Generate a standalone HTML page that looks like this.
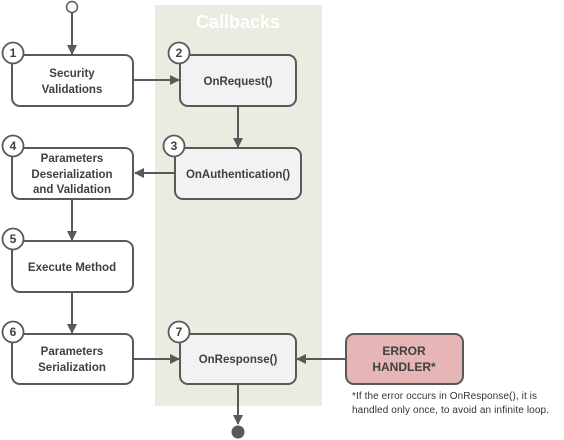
<!DOCTYPE html>
<html><head><style>
html,body{margin:0;padding:0;background:#fff;}
svg{display:block;font-family:"Liberation Sans",sans-serif;}
</style></head><body>
<svg width="564" height="440" viewBox="0 0 564 440" xmlns="http://www.w3.org/2000/svg">
<defs>
<marker id="a" markerWidth="10" markerHeight="10" refX="9" refY="5" orient="auto" markerUnits="userSpaceOnUse">
<path d="M0,0 L10,5 L0,10 z" fill="#595959"/>
</marker>
</defs>
<rect x="155" y="5" width="167" height="401" fill="#ecebe2"/>
<text x="238" y="28" text-anchor="middle" font-size="18" font-weight="bold" fill="#ffffff">Callbacks</text>

<g stroke="#595959" stroke-width="2" fill="none">
<line x1="72" y1="13" x2="72" y2="54" marker-end="url(#a)"/>
<line x1="134" y1="80" x2="179" y2="80" marker-end="url(#a)"/>
<line x1="238" y1="107" x2="238" y2="147" marker-end="url(#a)"/>
<line x1="174" y1="173" x2="135" y2="173" marker-end="url(#a)"/>
<line x1="72" y1="200" x2="72" y2="240" marker-end="url(#a)"/>
<line x1="72" y1="292" x2="72" y2="333" marker-end="url(#a)"/>
<line x1="134" y1="359" x2="179" y2="359" marker-end="url(#a)"/>
<line x1="345" y1="359" x2="297" y2="359" marker-end="url(#a)"/>
<line x1="238" y1="385" x2="238" y2="424" marker-end="url(#a)"/>
</g>
<circle cx="72" cy="7" r="5.5" fill="#fff" stroke="#595959" stroke-width="1.5"/>
<circle cx="238" cy="432" r="6.5" fill="#595959"/>

<g stroke="#595959" stroke-width="2">
<rect x="12" y="55" width="121" height="51" rx="8" fill="#fff"/>
<rect x="180" y="55" width="116" height="51" rx="8" fill="#f2f2f2"/>
<rect x="175" y="148" width="126" height="51" rx="8" fill="#f2f2f2"/>
<rect x="12" y="148" width="121" height="51" rx="8" fill="#fff"/>
<rect x="12" y="241" width="121" height="51" rx="8" fill="#fff"/>
<rect x="12" y="334" width="121" height="50" rx="8" fill="#fff"/>
<rect x="180" y="334" width="116" height="50" rx="8" fill="#f2f2f2"/>
<rect x="346" y="334" width="117" height="50" rx="8" fill="#e6b5b5"/>
</g>

<g stroke="#595959" stroke-width="1.8" fill="#fff">
<circle cx="13" cy="53" r="10.5"/>
<circle cx="179" cy="53" r="10.5"/>
<circle cx="174" cy="146" r="10.5"/>
<circle cx="13" cy="146" r="10.5"/>
<circle cx="13" cy="239" r="10.5"/>
<circle cx="13" cy="332" r="10.5"/>
<circle cx="179" cy="332" r="10.5"/>
</g>
<g font-size="12" font-weight="bold" fill="#404040" text-anchor="middle">
<text x="13" y="57">1</text>
<text x="179" y="57">2</text>
<text x="174" y="150">3</text>
<text x="13" y="150">4</text>
<text x="13" y="243">5</text>
<text x="13" y="336">6</text>
<text x="179" y="336">7</text>
</g>

<g font-size="11.5" font-weight="bold" fill="#404040" text-anchor="middle">
<text x="72" y="77">Security</text>
<text x="72" y="93">Validations</text>
<text x="238" y="85">OnRequest()</text>
<text x="238" y="178">OnAuthentication()</text>
<text x="72" y="162">Parameters</text>
<text x="72" y="178">Deserialization</text>
<text x="72" y="193">and Validation</text>
<text x="72" y="271">Execute Method</text>
<text x="72" y="355">Parameters</text>
<text x="72" y="371">Serialization</text>
<text x="238" y="363">OnResponse()</text>
<text x="404" y="355" font-size="12">ERROR</text>
<text x="404" y="371" font-size="12">HANDLER*</text>
</g>
<g font-size="10" fill="#333">
<text x="352" y="399" textLength="185" lengthAdjust="spacing">*If the error occurs in OnResponse(), it  is</text>
<text x="352" y="413" textLength="197" lengthAdjust="spacing">handled only once, to avoid an infinite loop.</text>
</g>
</svg>
</body></html>
